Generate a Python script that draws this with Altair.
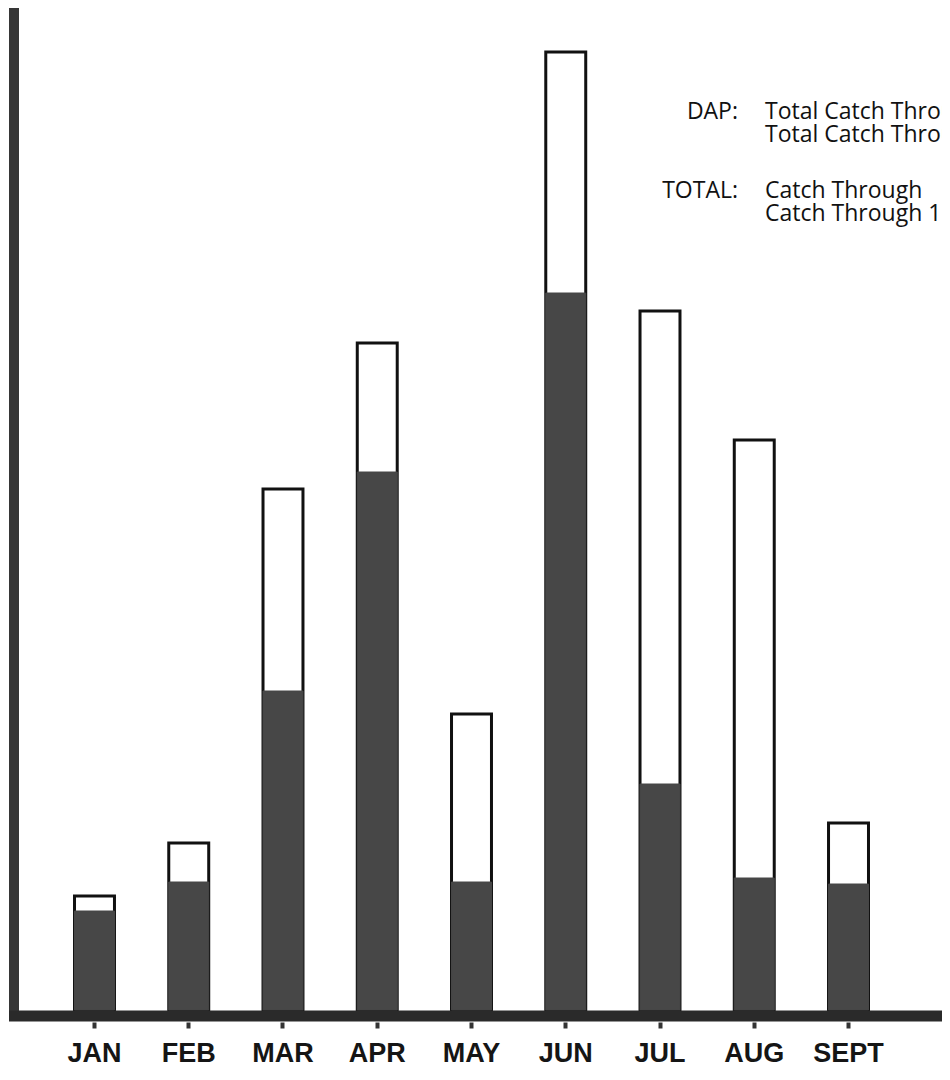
import altair as alt
import pandas as pd

# Data (arbitrary units, no value axis in the original)
months = ["JAN", "FEB", "MAR", "APR", "MAY", "JUN", "JUL", "AUG", "SEPT"]
total_catch = [11.4, 16.7, 52.1, 66.7, 29.6, 95.8, 69.9, 57.0, 18.7]
dap_catch = [9.9, 12.8, 31.9, 53.8, 12.8, 71.7, 22.6, 13.2, 12.6]

legend_keys = ["DAP:", "", "TOTAL:", ""]
legend_texts = ["Total Catch Through", "Total Catch Through", "Catch Through", "Catch Through 1"]

df = pd.DataFrame({"month": months, "total": total_catch, "dap": dap_catch})

W, H = 915, 1002
x = alt.X(
    "month:N",
    sort=months,
    scale=alt.Scale(paddingInner=0.576, paddingOuter=0.642),
    axis=alt.Axis(
        title=None, domain=False, grid=False, ticks=True, tickSize=6, tickWidth=4,
        tickColor="#333333", offset=12, labelPadding=12, labelAngle=0,
        labelFont="Liberation Sans", labelFontSize=27, labelFontWeight="bold",
        labelColor="#151515",
    ),
)
yscale = alt.Scale(domain=[0, 100.2], nice=False, zero=True)

base = alt.Chart(df)
total_bars = base.mark_bar(fill="white", stroke="#111111", strokeWidth=3).encode(
    x=x, y=alt.Y("total:Q", scale=yscale, axis=None)
)
dap_bars = base.mark_bar(fill="#474747", stroke="#474747", strokeWidth=1).encode(
    x=x, y=alt.Y("dap:Q", scale=yscale, axis=None)
)

axis_df = pd.DataFrame({"k": [0]})
y_axis = alt.Chart(axis_df).mark_rule(color="#363636", strokeWidth=10).encode(
    x=alt.value(0), y=alt.value(-3), y2=alt.value(1013)
)
baseline = alt.Chart(axis_df).mark_rule(color="#2a2a2a", strokeWidth=11).encode(
    x=alt.value(-5), x2=alt.value(W + 30), y=alt.value(1008)
)

leg_df = pd.DataFrame({
    "key": legend_keys,
    "text": legend_texts,
    "row": [0, 1, 2, 3],
})
leg_y = {0: 111, 1: 134, 2: 190, 3: 213}
key_layers = []
for i in range(4):
    sub = leg_df[leg_df.row == i]
    key_layers.append(
        alt.Chart(sub).mark_text(
            align="right", baseline="alphabetic", font="Open Sans", fontSize=23, color="#111111"
        ).encode(x=alt.value(724), y=alt.value(leg_y[i]), text="key:N")
    )
    key_layers.append(
        alt.Chart(sub).mark_text(
            align="left", baseline="alphabetic", font="Open Sans", fontSize=23, color="#111111"
        ).encode(x=alt.value(751), y=alt.value(leg_y[i]), text="text:N")
    )

chart = alt.layer(total_bars, dap_bars, y_axis, baseline, *key_layers).properties(
    width=W,
    height=H,
    autosize=alt.AutoSizeParams(type="none"),
    padding={"left": 6, "top": 0, "right": 13, "bottom": 60},
    background="white",
).configure_view(stroke=None)

chart.save("out.html", embed_options={"renderer": "svg", "actions": False})
